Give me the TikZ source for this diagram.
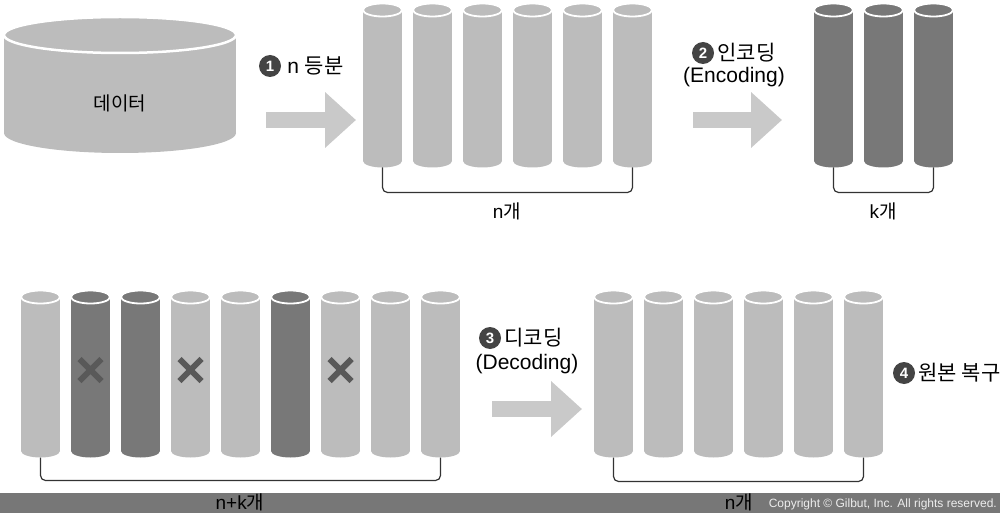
\documentclass[tikz,border=0pt]{standalone}
\usepackage{fontspec}
\setmainfont{Liberation Sans}
\newfontfamily\kr{Noto Sans CJK KR}
\usetikzlibrary{arrows.meta, positioning}
\definecolor{pillarlight}{HTML}{BCBCBC}
\definecolor{pillardark}{HTML}{787878}
\definecolor{arrowgray}{HTML}{C9C9C9}
\definecolor{bargray}{HTML}{777777}
\definecolor{dotgray}{HTML}{444444}
\tikzset{
	bigarrow/.style={line width=16, draw=arrowgray, -{Triangle[length=31pt, width=54pt]}},
	bracket/.style={draw=black!80, line width=1.2, rounded corners=5},
	numdot/.style={circle, fill=dotgray, text=white, inner sep=0pt, minimum size=22pt, font=\fontsize{15}{15}\selectfont\bfseries},
	lbl/.style={inner sep=0pt, font=\fontsize{21}{22}\selectfont},
	cnt/.style={inner sep=0pt, font=\fontsize{19}{20}\selectfont},
	lostmark/.style={draw=black!65, line width=6}
}
% pillar: name, centre x, top y, bottom y, colour
\newcommand{\pillar}[5]{
	\fill[#5] ({#2-19.5},#3) rectangle ({#2+19.5},#4);
	\fill[#5] (#2,#4) ellipse [x radius=19.5, y radius=6.5];
	\filldraw[#5, draw=white, line width=1.8] (#2,#3) ellipse [x radius=19.5, y radius=6.5];
	\coordinate (#1) at (#2,{#4+6.5});
}

\begin{document}
\begin{tikzpicture}[x=1pt, y=-1pt]
	\useasboundingbox (0,0) rectangle (1000,513);
	
	% data
	\fill[pillarlight] (4,35) rectangle (236,133);
	\fill[pillarlight] (120,133) ellipse [x radius=116, y radius=20];
	\filldraw[pillarlight, draw=white, line width=2.5] (120,35) ellipse [x radius=116, y radius=18];
	\node[cnt] (data) at (120,103) {\kr 데이터};
	
	% step 1
	\node[numdot] (c1) at (270,66) {1};
	\node[lbl, right=6pt of c1] (l1) {n {\kr 등분}};
	\coordinate (a1s) at (266,120);
	\coordinate (a1e) at (356,120);
	\draw[bigarrow] (a1s) -- (a1e);
	
	\foreach \i [evaluate=\i as \cx using 332.5+50*\i] in {1,...,6}
		\pillar{n\i}{\cx}{10}{161}{pillarlight};
	\draw[bracket] (n1) -- ++(0,25) -| (n6);
	\node[cnt] (ln) at (507,211) {n{\kr 개}};
	
	% step 2
	\node[numdot] (c2) at (703,53) {2};
	\node[lbl, right=3pt of c2] (l2) {\kr 인코딩};
	\node[lbl] (l2b) at (734,77) {(Encoding)};
	\coordinate (a2s) at (693,120);
	\coordinate (a2e) at (782,120);
	\draw[bigarrow] (a2s) -- (a2e);
	
	\foreach \i [evaluate=\i as \cx using 783.5+50*\i] in {1,...,3}
		\pillar{k\i}{\cx}{10}{161}{pillardark};
	\draw[bracket] (k1) -- ++(0,25) -| (k3);
	\node[cnt] (lk) at (883,211) {k{\kr 개}};
	
	% bottom strip
	\fill[bargray] (0,493) rectangle (1000,513);
	
	\foreach \c [count=\i, evaluate=\i as \cx using -9.5+50*\i] in {pillarlight,pillardark,pillardark,pillarlight,pillarlight,pillardark,pillarlight,pillarlight,pillarlight}
		\pillar{m\i}{\cx}{297}{451}{\c};
	\foreach \i [evaluate=\i as \cx using -9.5+50*\i] in {2,4,7}
		\draw[lostmark] ({\cx-11},359) -- ({\cx+11},381)
			({\cx-11},381) -- ({\cx+11},359);
	\draw[bracket] (m1) -- ++(0,23) -| (m9);
	\node[cnt] (lnk) at (240,502) {n+k{\kr 개}};
	
	% step 3
	\node[numdot] (c3) at (490,338) {3};
	\node[lbl, right=3pt of c3] (l3) {\kr 디코딩};
	\node[lbl] (l3b) at (527,364) {(Decoding)};
	\coordinate (a3s) at (492,409);
	\coordinate (a3e) at (582,409);
	\draw[bigarrow] (a3s) -- (a3e);
	
	\foreach \i [evaluate=\i as \cx using 563.5+50*\i] in {1,...,6}
		\pillar{r\i}{\cx}{297}{451}{pillarlight};
	\draw[bracket] (r1) -- ++(0,24) -| (r6);
	\node[cnt] (lr) at (739,502) {n{\kr 개}};
	
	% step 4
	\node[numdot] (c4) at (904,373) {4};
	\node[lbl, right=3pt of c4] (l4) {\kr 원본 복구};
	
	\node[inner sep=0pt, anchor=east, text=black!7, font=\fontsize{12}{12}\selectfont] (copy) at (997,504) {Copyright © Gilbut, Inc. All rights reserved.};
\end{tikzpicture}
\end{document}
